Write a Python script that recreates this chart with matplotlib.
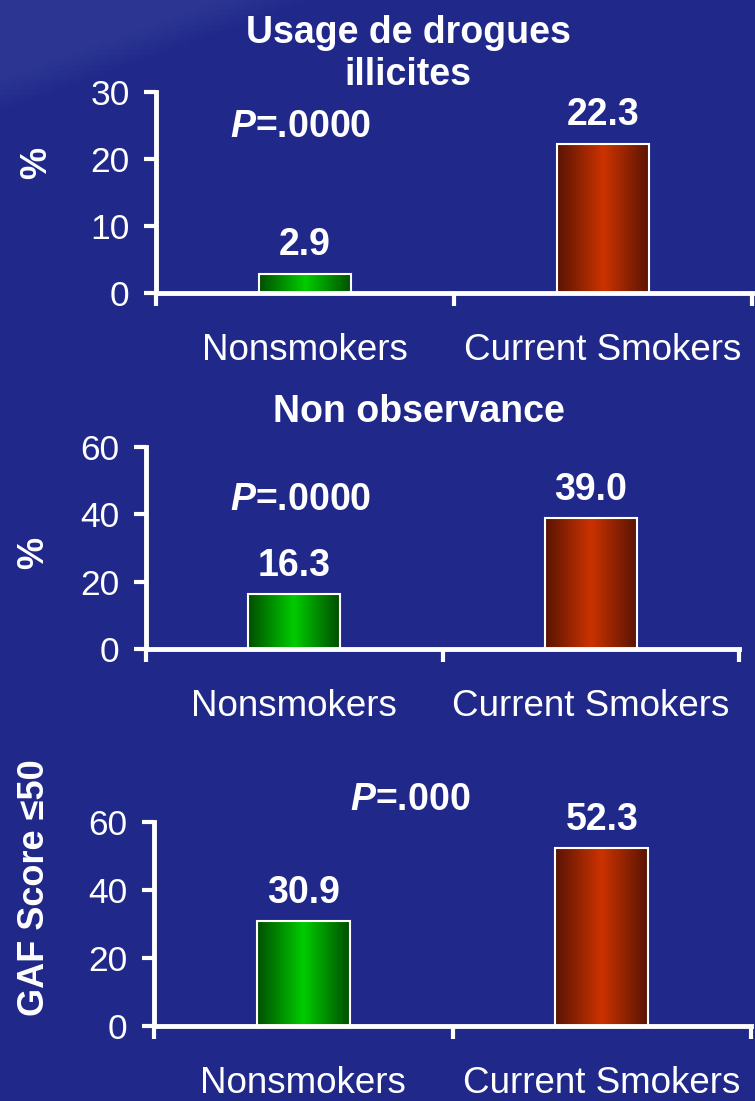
import matplotlib
matplotlib.use("Agg")

import numpy as np
import matplotlib.pyplot as plt
from matplotlib.colors import LinearSegmentedColormap

plt.rcParams['font.family'] = ['Liberation Sans', 'DejaVu Sans']
plt.rcParams['mathtext.fontset'] = 'custom'
plt.rcParams['mathtext.it'] = 'Liberation Sans:italic:bold'
plt.rcParams['mathtext.rm'] = 'Liberation Sans:bold'

# data
categories = ["Nonsmokers", "Current Smokers"]
drug_use = [2.9, 22.3]
non_adherence = [16.3, 39.0]
gaf_low = [30.9, 52.3]

panel_titles = ["Usage de drogues\nillicites", "Non observance", None]
panel_ylabels = ["%", "%", "GAF Score \u226450"]
panel_pvalues = [r"$\mathit{P}$=.0000", r"$\mathit{P}$=.0000", r"$\mathit{P}$=.000"]
panel_yticks = [[0, 10, 20, 30], [0, 20, 40, 60], [0, 20, 40, 60]]

BG = "#20298a"
green_cmap = LinearSegmentedColormap.from_list("g", ["#005000", "#00cc00", "#005000"])
red_cmap = LinearSegmentedColormap.from_list("r", ["#5a1404", "#cc3300", "#5a1404"])

fig = plt.figure(figsize=(7.55, 11.01), dpi=100)
fig.patch.set_facecolor(BG)

# background with slightly lighter top-left corner
bg = fig.add_axes([0, 0, 1, 1], zorder=-5)
H, W = 220, 151
yy, xx = np.mgrid[0:H, 0:W]
d = (xx * 5.0) / 280 + (yy * 5.0) / 100
w = np.clip((1.1 - d) / 0.35, 0, 1)[..., None]
base = np.array([32, 41, 138]) / 255
light = np.array([44, 54, 146]) / 255
bg.imshow(base * (1 - w) + light * w, aspect="auto", extent=[0, 1, 0, 1], origin="upper")
bg.axis("off")

# axes rectangles in figure fraction
rects = [
    [0.2066, 0.7339, 0.7894, 0.1826],
    [0.1934, 0.4105, 0.7854, 0.1835],
    [0.2040, 0.0681, 0.7907, 0.1853],
]
title_pos = [(0.423, 1.19), (0.46, 1.173), None]
ylabel_pos = [(-0.2, 0.647), (-0.19, 0.475), (-0.2, 0.68)]
p_pos = [(0.242, 0.826), (0.26, 0.74), (0.429, 1.11)]

series = [drug_use, non_adherence, gaf_low]
x = np.arange(len(categories))

for i, vals in enumerate(series):
    ax = fig.add_axes(rects[i])
    ax.set_facecolor("none")
    bars = ax.bar(x, vals, width=0.31, color="none", edgecolor="white",
                  linewidth=1.5, zorder=3)
    grad = np.linspace(0, 1, 64)[None, :]
    for b, cmap in zip(bars, [green_cmap, red_cmap]):
        ax.imshow(grad, cmap=cmap, aspect="auto", zorder=2,
                  extent=[b.get_x(), b.get_x() + b.get_width(), 0, b.get_height()])
    for xi, v in zip(x, vals):
        ax.annotate(f"{v:.1f}", (xi, v), xytext=(0, 13), textcoords="offset points",
                    ha="center", va="baseline", color="white",
                    fontsize=27, fontweight="bold")

    ymax = panel_yticks[i][-1]
    ax.set_xlim(-0.5, 1.5)
    ax.set_ylim(0, ymax)
    ax.set_yticks(panel_yticks[i])
    ax.set_xticks([-0.5, 0.5, 1.5])
    ax.set_xticklabels([])
    ax.set_xticks(x, minor=True)
    ax.set_xticklabels(categories, minor=True)

    for s in ["top", "right"]:
        ax.spines[s].set_visible(False)
    for s in ["left", "bottom"]:
        ax.spines[s].set_color("white")
        ax.spines[s].set_linewidth(3.5)
        ax.spines[s].set_zorder(4)

    ax.tick_params(axis="y", colors="white", labelsize=25.5, length=9, width=3,
                   pad=10)
    ax.tick_params(axis="x", which="major", colors="white", length=9, width=3)
    ax.tick_params(axis="x", which="minor", colors="white", labelsize=26.5,
                   length=0, pad=29)

    if panel_titles[i]:
        tx, ty = title_pos[i]
        ax.text(tx, ty, panel_titles[i], transform=ax.transAxes, ha="center",
                va="center", color="white", fontsize=27, fontweight="bold",
                linespacing=1.2)
    lx, ly = ylabel_pos[i]
    ax.text(lx, ly, panel_ylabels[i], transform=ax.transAxes, rotation=90,
            ha="center", va="center", color="white", fontsize=26,
            fontweight="bold")
    px, py = p_pos[i]
    ax.text(px, py, panel_pvalues[i], transform=ax.transAxes, ha="center",
            va="center", color="white", fontsize=27, fontweight="bold")

fig.savefig("out.png", dpi=100, facecolor=fig.get_facecolor())
